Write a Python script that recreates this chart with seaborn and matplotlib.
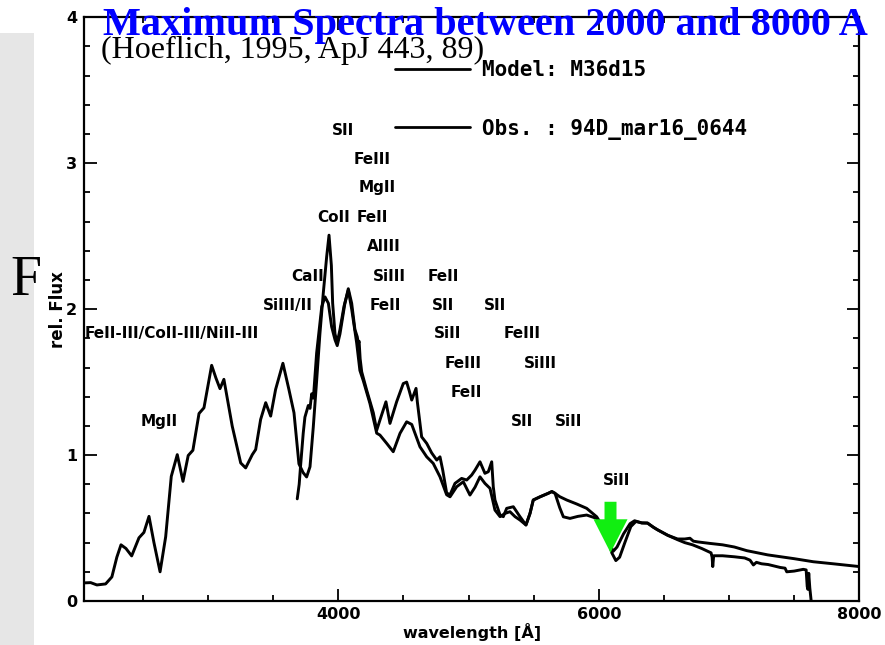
import matplotlib
matplotlib.use("Agg")
import matplotlib.pyplot as plt
import matplotlib.patches as mpatches
from matplotlib.ticker import MultipleLocator
import numpy as np
import pandas as pd
import seaborn as sns

# --- spectra -------------------------------------------------------------
model_label = "Model: M36d15"
obs_label = "Obs. : 94D_mar16_0644"

model_wave = [2047, 2099, 2147, 2214, 2262, 2300, 2332, 2370, 2414, 2470, 2508, 2547,
              2585, 2632, 2675, 2718, 2764, 2808, 2848, 2884, 2931, 2969, 3028, 3060,
              3092, 3122, 3186, 3251, 3289, 3340, 3366, 3404, 3443, 3481, 3519, 3575,
              3621, 3660, 3698, 3730, 3757, 3783, 3808, 3834, 3859, 3885, 3911, 3929,
              3947, 3957, 3975, 3992, 4013, 4044, 4077, 4103, 4141, 4166, 4192, 4243,
              4295, 4320, 4372, 4422, 4474, 4525, 4564, 4627, 4679, 4729, 4781, 4832,
              4858, 4909, 4960, 5011, 5050, 5088, 5126, 5165, 5203, 5242, 5280, 5318,
              5357, 5395, 5441, 5472, 5497, 5549, 5612, 5640, 5664, 5700, 5754, 5830,
              5907, 5984, 6030, 6067, 6100, 6131, 6160, 6200, 6246, 6285, 6330, 6374,
              6420, 6451, 6530, 6605, 6660, 6700, 6726, 6760, 6850, 6950, 7041, 7136,
              7297, 7500, 7647, 7800, 8000]
model_flux = [0.124, 0.126, 0.110, 0.117, 0.165, 0.300, 0.385, 0.360, 0.309, 0.433, 0.470, 0.580,
              0.400, 0.200, 0.440, 0.854, 1.003, 0.820, 0.997, 1.033, 1.285, 1.324, 1.615, 1.530,
              1.455, 1.519, 1.198, 0.946, 0.912, 1.003, 1.038, 1.244, 1.359, 1.267, 1.450, 1.629,
              1.450, 1.290, 0.940, 0.880, 0.850, 0.920, 1.190, 1.510, 1.830, 2.110, 2.360, 2.507,
              2.300, 2.040, 1.830, 1.770, 1.860, 2.020, 2.130, 2.000, 1.770, 1.580, 1.510, 1.354,
              1.150, 1.137, 1.080, 1.023, 1.149, 1.228, 1.210, 1.057, 0.988, 0.943, 0.851, 0.728,
              0.714, 0.783, 0.817, 0.726, 0.780, 0.851, 0.806, 0.772, 0.623, 0.578, 0.600, 0.612,
              0.578, 0.555, 0.521, 0.600, 0.692, 0.714, 0.738, 0.750, 0.738, 0.715, 0.692, 0.665,
              0.635, 0.577, 0.510, 0.440, 0.330, 0.277, 0.300, 0.400, 0.510, 0.545, 0.535, 0.534,
              0.505, 0.488, 0.450, 0.425, 0.425, 0.430, 0.410, 0.405, 0.395, 0.385, 0.370, 0.345,
              0.316, 0.290, 0.269, 0.255, 0.236]

obs_wave = [3685, 3700, 3711, 3731, 3744, 3757, 3770, 3783, 3796, 3809, 3834, 3873,
            3898, 3924, 3949, 3975, 3992, 4013, 4051, 4077, 4103, 4128, 4146, 4154,
            4160, 4168, 4180, 4218, 4269, 4295, 4320, 4366, 4397, 4448, 4499, 4525,
            4545, 4564, 4597, 4607, 4640, 4679, 4717, 4756, 4781, 4802, 4832, 4858,
            4896, 4947, 4986, 5024, 5050, 5088, 5126, 5152, 5178, 5190, 5203, 5242,
            5267, 5293, 5344, 5395, 5441, 5472, 5497, 5549, 5612, 5640, 5664, 5700,
            5728, 5779, 5840, 5907, 5984, 6020, 6060, 6090, 6110, 6140, 6190, 6240,
            6275, 6330, 6374, 6420, 6451, 6530, 6605, 6660, 6720, 6790, 6850, 6862,
            6870, 6875, 6882, 6950, 7041, 7120, 7161, 7187, 7210, 7250, 7300, 7392,
            7430, 7443, 7500, 7570, 7592, 7600, 7605, 7612, 7620, 7630]
obs_flux = [0.700, 0.800, 0.930, 1.150, 1.260, 1.300, 1.340, 1.320, 1.420, 1.390, 1.700, 2.016,
            2.084, 2.040, 1.880, 1.790, 1.750, 1.830, 2.040, 2.140, 2.040, 1.860, 1.810, 1.765,
            1.780, 1.660, 1.570, 1.445, 1.290, 1.170, 1.240, 1.365, 1.217, 1.365, 1.490, 1.500,
            1.440, 1.377, 1.457, 1.365, 1.125, 1.080, 1.015, 0.966, 0.988, 0.897, 0.740, 0.728,
            0.806, 0.840, 0.829, 0.863, 0.897, 0.954, 0.875, 0.886, 0.954, 0.783, 0.692, 0.589,
            0.578, 0.635, 0.646, 0.578, 0.521, 0.600, 0.692, 0.714, 0.738, 0.750, 0.738, 0.640,
            0.577, 0.566, 0.580, 0.589, 0.566, 0.520, 0.450, 0.380, 0.340, 0.370, 0.460, 0.530,
            0.550, 0.535, 0.534, 0.505, 0.488, 0.450, 0.420, 0.400, 0.385, 0.360, 0.335, 0.330,
            0.300, 0.236, 0.310, 0.310, 0.303, 0.295, 0.280, 0.247, 0.265, 0.255, 0.250, 0.230,
            0.225, 0.200, 0.205, 0.217, 0.213, 0.100, 0.080, 0.190, 0.090, 0.005]

# --- line identifications: (ion, wavelength, label height) -----------------
line_ids = [
    ("SII", 4034, 3.226), ("FeIII", 4263, 3.027), ("MgII", 4301, 2.836),
    ("CoII", 3965, 2.627), ("FeII", 4265, 2.627), ("AlIII", 4346, 2.432),
    ("CaII", 3764, 2.226), ("SiIII", 4393, 2.226), ("FeII", 4810, 2.226),
    ("SiIII/II", 3610, 2.027), ("FeII", 4361, 2.027), ("SII", 4802, 2.027),
    ("SII", 5203, 2.027), ("SiII", 4842, 1.834), ("FeIII", 5412, 1.834),
    ("FeIII", 4961, 1.630), ("SiIII", 5555, 1.630), ("FeII", 4982, 1.432),
    ("MgII", 2622, 1.228), ("SII", 5410, 1.228), ("SiII", 5766, 1.228),
    ("SiII", 6140, 0.827),
]
blend_id = ("FeII-III/CoII-III/NiII-III", 2055, 1.834)

# Si II 6355 trough marker: (wavelength, top, tip)
arrow_wave, arrow_top, arrow_tip = 6090, 0.680, 0.331

title = "Maximum Spectra between 2000 and 8000 A"
subtitle = "(Hoeflich, 1995, ApJ 443, 89)"

# --- figure --------------------------------------------------------------
sns.set_style("ticks")
plt.rcParams["font.family"] = ["DejaVu Sans"]
plt.rcParams.update({"text.color": "black", "axes.labelcolor": "black",
                     "xtick.color": "black", "ytick.color": "black",
                     "axes.edgecolor": "black"})

W, H = 885, 645
fig = plt.figure(figsize=(W / 100, H / 100), dpi=100)
ax = fig.add_axes([84 / W, 1 - 601 / H, (859.3 - 84) / W, (601 - 17.3) / H])

# grey strip along the left edge with a large serif letter
fig.patches.append(mpatches.Rectangle((0, 0), 34 / W, (H - 33) / H,
                                      transform=fig.transFigure,
                                      facecolor="#e6e6e6", edgecolor="none", zorder=0))
fig.text(10 / W, 1 - 295 / H, "F", family="Liberation Serif", fontsize=40,
         va="baseline", ha="left", color="black")

df = pd.concat([
    pd.DataFrame({"wavelength": model_wave, "flux": model_flux, "spectrum": model_label}),
    pd.DataFrame({"wavelength": obs_wave, "flux": obs_flux, "spectrum": obs_label}),
])
sns.lineplot(data=df, x="wavelength", y="flux", hue="spectrum",
             palette=["black", "black"], estimator=None, sort=False,
             linewidth=2.1, ax=ax, legend=True)
for ln in ax.get_lines():
    ln.set_solid_joinstyle("round")
    ln.set_solid_capstyle("round")

ax.set_xlim(2048, 8000)
ax.set_ylim(0, 4)
ax.xaxis.set_major_locator(MultipleLocator(2000))
ax.xaxis.set_minor_locator(MultipleLocator(500))
ax.yaxis.set_major_locator(MultipleLocator(1))
ax.yaxis.set_minor_locator(MultipleLocator(0.2))
ax.tick_params(which="both", direction="in", top=True, right=True, width=1.3,
               labelsize=11.5, colors="black")
ax.tick_params(which="major", length=9)
ax.tick_params(which="minor", length=4.5)
ax.tick_params(axis="x", which="major", pad=4.5)
ax.tick_params(axis="y", which="major", pad=5)
for lab in ax.get_xticklabels() + ax.get_yticklabels():
    lab.set_fontweight("bold")
for sp in ax.spines.values():
    sp.set_linewidth(1.6)
    sp.set_color("black")

ax.set_xlabel("wavelength [Å]", fontsize=11.5, fontweight="bold", labelpad=0.5)
ax.set_ylabel("rel. Flux", fontsize=12, fontweight="bold", labelpad=-1)

# line identifications
for ion, wl, h in line_ids:
    ax.text(wl, h, ion, ha="center", va="center", fontsize=11, fontweight="bold")
ax.text(blend_id[1], blend_id[2], blend_id[0], ha="left", va="center",
        fontsize=11, fontweight="bold")

# arrow pointing at the Si II trough
ax.add_patch(mpatches.FancyArrow(arrow_wave, arrow_top, 0, arrow_tip - arrow_top,
                                 width=92, head_width=261, head_length=0.229,
                                 length_includes_head=True, color="#11ee11",
                                 linewidth=0, zorder=5))

# legend: line sample followed by the run name
handles, labels = ax.get_legend_handles_labels()
leg = ax.legend(handles, labels, loc="upper left",
                bbox_to_anchor=(395 / W, 1 - 60 / H), bbox_transform=fig.transFigure,
                frameon=False, prop={"family": "DejaVu Sans Mono", "weight": "bold", "size": 15},
                handlelength=3.6, handletextpad=0.6, labelspacing=1.86,
                borderpad=0, borderaxespad=0)
for hl in leg.get_lines():
    hl.set_linewidth(2.0)
for t in leg.get_texts():
    t.set_color("black")

fig.text(101 / W, 1 - 58 / H, subtitle, family="Liberation Serif", fontsize=23,
         va="baseline", ha="left", color="black")
fig.text(103 / W, 1 - 34.5 / H, title, family="Liberation Serif", fontsize=29,
         fontweight="bold", va="baseline", ha="left", color="#0000ff")

fig.savefig("out.png", dpi=100)
